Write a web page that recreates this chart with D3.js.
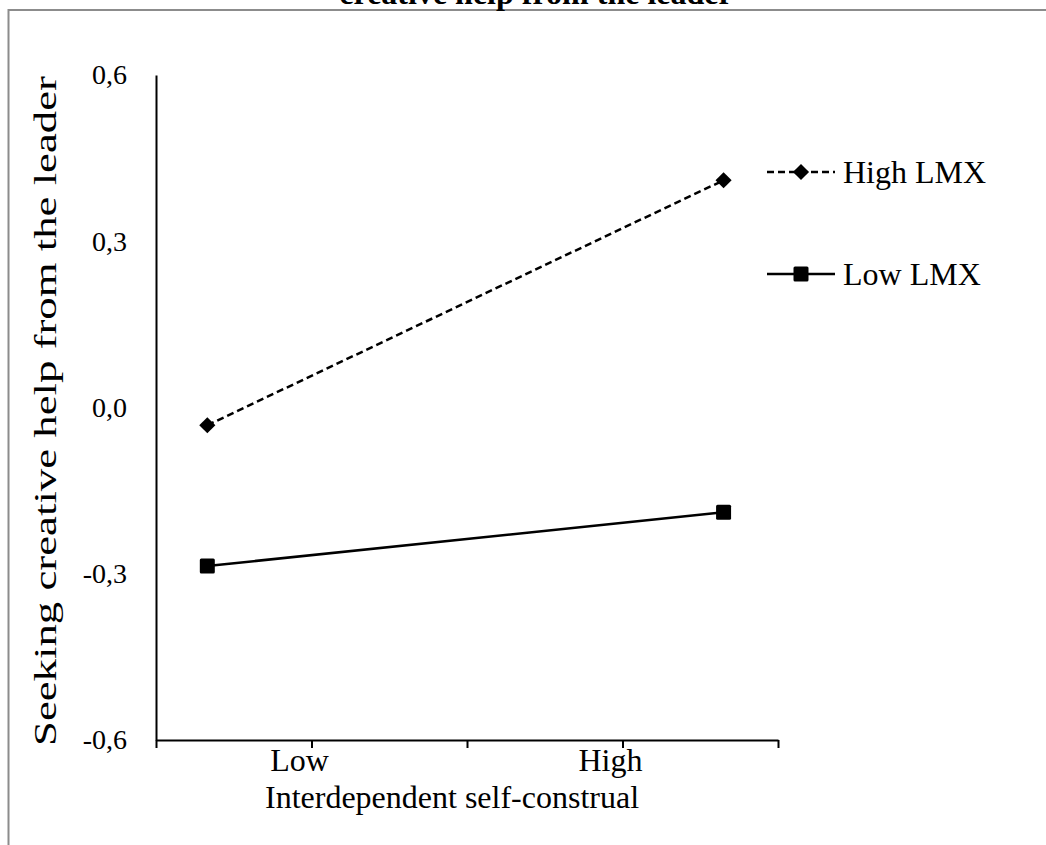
<!DOCTYPE html>
<html>
<head>
<meta charset="utf-8">
<script src="https://cdn.jsdelivr.net/npm/d3@7"></script>
<style>
  html, body { margin: 0; padding: 0; background: #fff; }
  svg { display: block; }
  text { font-family: "Liberation Serif", "Times New Roman", serif; fill: #000; }
</style>
</head>
<body>
<svg id="chart" width="1046" height="845"></svg>
<script>
// ---- data ----
const categories = ["Low", "High"];           // x-axis category labels
const categoryTicks = [1, 3];                 // where the category labels sit on x
const pointX = [0.33, 3.65];                  // x positions of the plotted points
const highLMX = [-0.032, 0.41];
const lowLMX = [-0.286, -0.189];
const yTicks = [-0.6, -0.3, 0.0, 0.3, 0.6];
const xTicks = [0, 1, 2, 3, 4];
const seriesNames = ["High LMX", "Low LMX"];
const titleText = "creative help from the leader";
const yLabel = "Seeking creative help from the leader";
const xLabel = "Interdependent self-construal";

// ---- layout ----
const svg = d3.select("#chart");
const plotLeft = 156, plotRight = 778, plotTop = 75, plotBottom = 740;

const x = d3.scaleLinear().domain([0, 4]).range([plotLeft, plotRight]);
const y = d3.scaleLinear().domain([-0.6, 0.6]).range([plotBottom, plotTop]);

// outer border
svg.append("rect")
  .attr("x", 8.5).attr("y", 10).attr("width", 1100).attr("height", 900)
  .attr("fill", "none").attr("stroke", "#8c8c8c").attr("stroke-width", 2);

// title (partially cut at top)
svg.append("text")
  .attr("x", 536).attr("y", 4)
  .attr("text-anchor", "middle")
  .attr("font-weight", "bold")
  .attr("font-size", 32)
  .text(titleText);

// y axis
const yAxis = d3.axisLeft(y).tickValues(yTicks).tickSize(0).tickPadding(29)
  .tickFormat(d => d3.format(".1f")(d).replace(".", ",").replace("−", "-"));
const gy = svg.append("g").attr("transform", `translate(${plotLeft},0)`).call(yAxis);
gy.select(".domain").attr("stroke", "#000").attr("stroke-width", 2);
gy.selectAll("text").attr("font-size", 28).attr("font-family", "Liberation Serif, serif");

// x axis: line + ticks
const gx = svg.append("g").attr("transform", `translate(0,${plotBottom})`)
  .call(d3.axisBottom(x).tickValues(xTicks).tickSize(8).tickSizeOuter(0).tickFormat(""));
gx.select(".domain").attr("stroke", "#000").attr("stroke-width", 2);
gx.selectAll(".tick line").attr("stroke", "#000").attr("stroke-width", 2);

// x category labels
svg.append("g").selectAll("text").data(categories).join("text")
  .attr("x", (d, i) => x(categoryTicks[i]) - 12)
  .attr("y", plotBottom + 31)
  .attr("text-anchor", "middle")
  .attr("font-size", 32)
  .text(d => d);

// axis titles
svg.append("text")
  .attr("x", 452).attr("y", 808)
  .attr("text-anchor", "middle")
  .attr("font-size", 32)
  .text(xLabel);

svg.append("text")
  .attr("transform", `translate(56,411) rotate(-90) scale(1.4,1)`)
  .attr("text-anchor", "middle")
  .attr("font-size", 32)
  .text(yLabel);

// lines
const line = d3.line().x((d, i) => x(pointX[i])).y(d => y(d));

svg.append("path").datum(highLMX)
  .attr("d", line).attr("fill", "none").attr("stroke", "#000")
  .attr("stroke-width", 2.5).attr("stroke-dasharray", "7,4");

svg.append("path").datum(lowLMX)
  .attr("d", line).attr("fill", "none").attr("stroke", "#000")
  .attr("stroke-width", 2.5);

const diamond = d3.symbol().type(d3.symbolSquare).size(130);
svg.append("g").selectAll("path").data(highLMX).join("path")
  .attr("d", diamond())
  .attr("transform", (d, i) => `translate(${x(pointX[i])},${y(d)}) rotate(45)`)
  .attr("fill", "#000");

svg.append("g").selectAll("rect").data(lowLMX).join("rect")
  .attr("x", (d, i) => x(pointX[i]) - 7.5)
  .attr("y", d => y(d) - 7.5)
  .attr("width", 15).attr("height", 15).attr("rx", 1.5)
  .attr("fill", "#000");

// legend
const legendY = [172, 274];
const lg = svg.append("g");
seriesNames.forEach((name, i) => {
  const ly = legendY[i];
  lg.append("line").attr("x1", 767).attr("x2", 835).attr("y1", ly).attr("y2", ly)
    .attr("stroke", "#000").attr("stroke-width", 2.5)
    .attr("stroke-dasharray", i === 0 ? "7,4" : null);
  if (i === 0) {
    lg.append("path").attr("d", diamond())
      .attr("transform", `translate(801,${ly}) rotate(45)`).attr("fill", "#000");
  } else {
    lg.append("rect").attr("x", 801 - 7.5).attr("y", ly - 7.5)
      .attr("width", 15).attr("height", 15).attr("rx", 1.5).attr("fill", "#000");
  }
  lg.append("text").attr("x", 843).attr("y", ly + 11)
    .attr("font-size", 32).text(name);
});
</script>
</body>
</html>
